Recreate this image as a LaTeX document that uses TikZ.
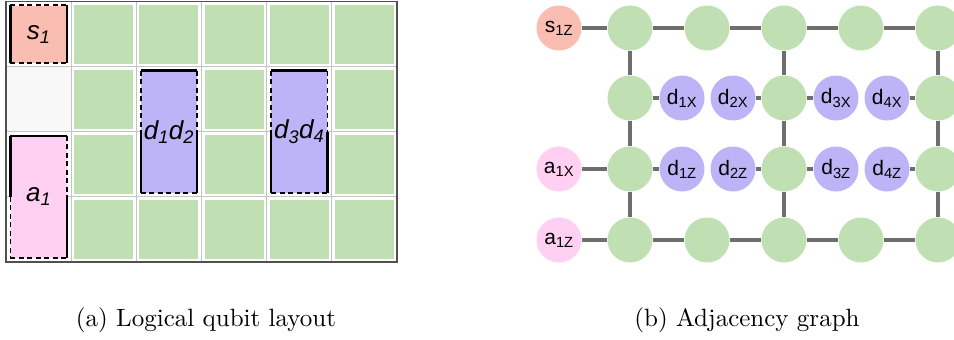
\documentclass[tikz,border=0pt]{standalone}
\usepackage{fontspec}
\newfontfamily\lsans{Liberation Sans}
\definecolor{qgreen}{HTML}{C0E0B4}
\definecolor{qpurple}{HTML}{BDB4F8}
\definecolor{qsalmon}{HTML}{F9BDB1}
\definecolor{qpink}{HTML}{FFD0F2}
\definecolor{qedge}{HTML}{6E6E6E}
\definecolor{qgrid}{HTML}{C4C4C4}
\definecolor{qframe}{HTML}{505050}
\definecolor{qempty}{HTML}{F8F8F8}
\begin{document}
\begin{tikzpicture}[x=1pt,y=-1pt,
  cellsq/.style={fill=qgreen, draw=none, inner sep=0pt, minimum width=59, minimum height=59},
  qbox/.style={draw=none, inner sep=0pt, font=\lsans\itshape\fontsize{26}{30}\selectfont},
  solidb/.style={black, line width=2.2pt},
  dashb/.style={black, line width=1.8pt, dash pattern=on 5pt off 3.5pt},
  circ/.style={circle, minimum size=45, inner sep=0pt, draw=none, font=\lsans\fontsize{21}{24}\selectfont},
  gq/.style={circ, fill=qgreen},
  dq/.style={circ, fill=qpurple},
  link/.style={qedge, line width=4pt},
  captext/.style={font=\fontsize{10}{12}\selectfont, scale=2.5, inner sep=0pt}
]
\clip (0,0) rectangle (954,340);
\fill[white] (0,0) rectangle (954,340);

% ---------- left: layout grid ----------
\fill[qempty] (6,66.6) rectangle (71.2,131.7);
\foreach \i in {1,...,5}
  \draw[qgrid, line width=1.2pt] ({6+65.17*\i},1.5) -- ({6+65.17*\i},261.9);
\foreach \j in {1,2,3}
  \draw[qgrid, line width=1.2pt] (6,{1.5+65.1*\j}) -- (397,{1.5+65.1*\j});
\draw[qframe, line width=1.5pt] (6,1.5) rectangle (397,261.9);

\foreach \c/\r in {1/0,2/0,3/0,4/0,5/0,1/1,3/1,5/1,1/2,3/2,5/2,1/3,2/3,3/3,4/3,5/3}
  \node[cellsq] (c\c\r) at ({6+65.17*(\c+0.5)},{1.5+65.1*(\r+0.5)}) {};

\node[qbox, fill=qsalmon, minimum width=56, minimum height=57] (s1) at (38.6,34.05) {s\textsubscript{1}};
\node[qbox, fill=qpink, minimum width=56, minimum height=122] (a1) at (38.6,196.8) {a\textsubscript{1}};
\node[qbox, fill=qpurple, minimum width=56, minimum height=122] (d12) at (168.9,131.7) {d\textsubscript{1}d\textsubscript{2}};
\node[qbox, fill=qpurple, minimum width=56, minimum height=122] (d34) at (299.2,131.7) {d\textsubscript{3}d\textsubscript{4}};

% s1 borders
\draw[dashb] (s1.north west) -- (s1.north east);
\draw[dashb] (s1.south west) -- (s1.south east);
\draw[solidb] (s1.north west) -- (s1.south west);
\draw[solidb] (s1.north east) -- (s1.south east);
% a1 borders
\draw[solidb] (a1.north west) -- (a1.north east);
\draw[dashb] (a1.south west) -- (a1.south east);
\draw[solidb] (a1.north west) -- (a1.west);
\draw[dashb] (a1.west) -- (a1.south west);
\draw[dashb] (a1.north east) -- (a1.east);
\draw[solidb] (a1.east) -- (a1.south east);
% d boxes borders
\foreach \b in {d12,d34}{
  \draw[solidb] (\b.north west) -- (\b.north east);
  \draw[dashb] (\b.south west) -- (\b.south east);
  \draw[dashb] (\b.north west) -- (\b.west);
  \draw[solidb] (\b.west) -- (\b.south west);
  \draw[dashb] (\b.north east) -- (\b.east);
  \draw[solidb] (\b.east) -- (\b.south east);
}

% ---------- right: adjacency graph ----------
\node[circ, fill=qsalmon] (s1z) at (559,28) {s\textsubscript{1Z}};
\node[circ, fill=qpink] (a1x) at (559,169) {a\textsubscript{1X}};
\node[circ, fill=qpink] (a1z) at (559,240) {a\textsubscript{1Z}};

\foreach \n/\x in {0/630,1/707,2/784,3/861,4/938}{
  \node[gq] (g0\n) at (\x,28) {};
  \node[gq] (g3\n) at (\x,240) {};
}
\foreach \n/\x in {0/630,2/784,4/938}{
  \node[gq] (g1\n) at (\x,98) {};
  \node[gq] (g2\n) at (\x,169) {};
}
\node[dq] (d1x) at (682,98) {d\textsubscript{1X}};
\node[dq] (d2x) at (733,98) {d\textsubscript{2X}};
\node[dq] (d3x) at (836,98) {d\textsubscript{3X}};
\node[dq] (d4x) at (887,98) {d\textsubscript{4X}};
\node[dq] (d1z) at (682,169) {d\textsubscript{1Z}};
\node[dq] (d2z) at (733,169) {d\textsubscript{2Z}};
\node[dq] (d3z) at (836,169) {d\textsubscript{3Z}};
\node[dq] (d4z) at (887,169) {d\textsubscript{4Z}};

\draw[link] (s1z) -- (g00) -- (g01) -- (g02) -- (g03) -- (g04);
\draw[link] (a1z) -- (g30) -- (g31) -- (g32) -- (g33) -- (g34);
\foreach \c in {0,2,4}
  \draw[link] (g0\c) -- (g1\c) -- (g2\c) -- (g3\c);
\draw[link] (g10) -- (d1x);
\draw[link] (d2x) -- (g12);
\draw[link] (g12) -- (d3x);
\draw[link] (d4x) -- (g14);
\draw[link] (a1x) -- (g20);
\draw[link] (g20) -- (d1z);
\draw[link] (d2z) -- (g22);
\draw[link] (g22) -- (d3z);
\draw[link] (d4z) -- (g24);

% ---------- captions ----------
\node[captext] (capa) at (206,320) {(a) Logical qubit layout};
\node[captext] (capb) at (747,320) {(b) Adjacency graph};
\end{tikzpicture}
\end{document}
